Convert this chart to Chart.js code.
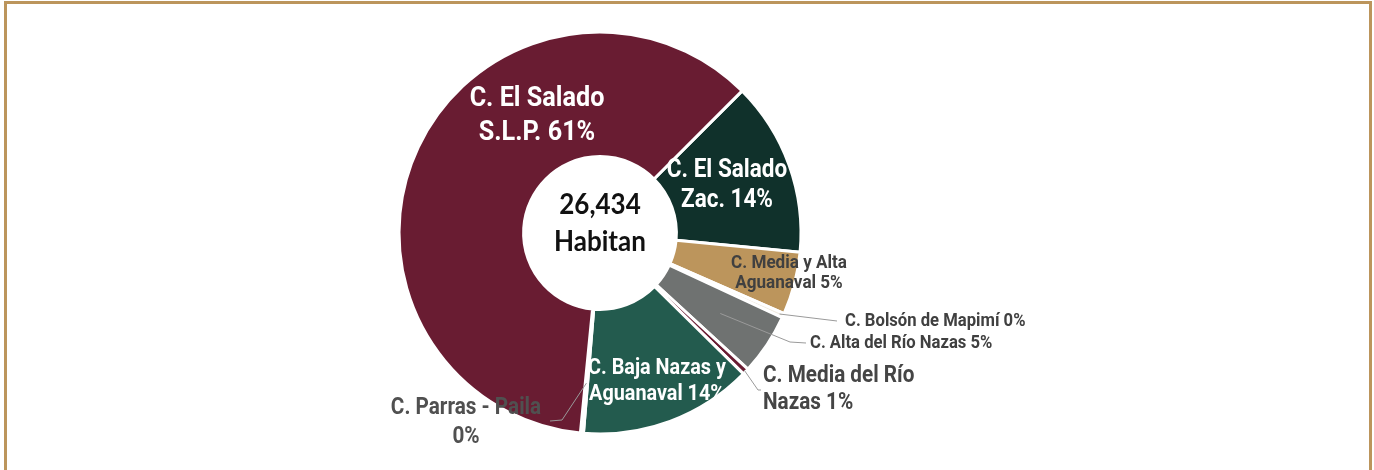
<!DOCTYPE html>
<html>
<head>
<meta charset="utf-8">
<script src="https://cdn.jsdelivr.net/npm/chart.js@4.4.1/dist/chart.umd.min.js"></script>
<style>
  body { margin: 0; background: #fff; }
  #wrap { position: relative; width: 1374px; height: 470px; overflow: hidden; }
  #frame {
    position: absolute; left: 4px; top: 1px; width: 1362px; height: 520px;
    border: 3px solid #bc955c; border-bottom: none;
  }
  #myChart { position: absolute; left: 0; top: 0; }
</style>
</head>
<body>
<div id="wrap">
  <div id="frame"></div>
  <canvas id="myChart" width="1374" height="470"></canvas>
</div>
<script>
'use strict'

// datos: habitantes por cuenca (orden de dibujo, en sentido horario)
let categories = [
  'C. El Salado Zac.',
  'C. Media y Alta Aguanaval',
  'C. Bolsón de Mapimí',
  'C. Alta del Río Nazas',
  'C. Media del Río Nazas',
  'C. Baja Nazas y Aguanaval',
  'C. Parras - Paila',
  'C. El Salado S.L.P.'
];
let habitantes = [3710, 1330, 95, 1300, 135, 3690, 64, 16110];
let colors = ['#10312b', '#bc955c', '#f1ebe0', '#6f7271', '#691c32', '#235b4e', '#f1ebe0', '#691c32'];

let total = habitantes.reduce((a, b) => a + b, 0);
let percents = habitantes.map(v => Math.round(v / total * 100));

const labelFont = 'Roboto, "DejaVu Sans Condensed", sans-serif';
const squeeze = 0.9;   // labels in the original are a narrow face

// where each label goes, relative to the centre of the doughnut
let labelLayout = [
  {words: 3, x: 127, y: -62, lh: 30, size: 25, color: '#fff', align: 'center'},
  {words: 4, x: 189, y: 30, lh: 20, size: 19, color: '#404040', align: 'center'},
  {words: 99, x: 245, y: 88, lh: 0, size: 18.5, color: '#404040', align: 'left', lead: [0.98, [[237, 88]]]},
  {words: 99, x: 210, y: 110, lh: 0, size: 18.5, color: '#404040', align: 'left', lead: [0.72, [[190, 109], [206, 110]]]},
  {words: 4, x: 163, y: 143, lh: 27, size: 23, color: '#454545', align: 'left', lead: [0.99, [[158, 157], [161, 157]]]},
  {words: 4, x: 57, y: 135, lh: 26, size: 22, color: '#fff', align: 'center'},
  {words: 4, x: -134, y: 175, lh: 29, size: 23, color: '#505050', align: 'center', lead: [0.75, [[-38, 187], [-50, 188]]]},
  {words: 3, x: -63, y: -134, lh: 34, size: 28, color: '#fff', align: 'center'}
];

function labelLines(i) {
  let w = (categories[i] + ' ' + percents[i] + '%').split(' ');
  let n = labelLayout[i].words;
  if (n >= w.length) return [w.join(' ')];
  return [w.slice(0, n).join(' '), w.slice(n).join(' ')];
}

function narrowText(ctx, t, x, y, sx) {
  ctx.save();
  ctx.translate(x, y);
  ctx.scale(sx, 1);
  ctx.fillText(t, 0, 0);
  ctx.restore();
}

let labelPlugin = {
  id: 'labels',
  afterDatasetsDraw(chart) {
    let ctx = chart.ctx;
    let arcs = chart.getDatasetMeta(0).data;
    let cx = arcs[0].x, cy = arcs[0].y;
    ctx.save();

    // leader lines
    ctx.strokeStyle = '#9a9a9a';
    ctx.lineWidth = 1;
    for (let i = 0; i < arcs.length; i++) {
      let lay = labelLayout[i];
      if (!lay.lead) continue;
      let a = arcs[i];
      let mid = (a.startAngle + a.endAngle) / 2;
      let r = a.outerRadius * lay.lead[0];
      ctx.beginPath();
      ctx.moveTo(cx + Math.cos(mid) * r, cy + Math.sin(mid) * r);
      lay.lead[1].forEach(p => ctx.lineTo(cx + p[0], cy + p[1]));
      ctx.stroke();
    }

    // texts
    ctx.textBaseline = 'middle';
    for (let i = 0; i < arcs.length; i++) {
      let lay = labelLayout[i];
      ctx.font = 'bold ' + lay.size + 'px ' + labelFont;
      ctx.fillStyle = lay.color;
      ctx.textAlign = lay.align;
      labelLines(i).forEach((t, k) => {
        narrowText(ctx, t, cx + lay.x, cy + lay.y + k * lay.lh, squeeze);
      });
    }

    // total in the hole
    ctx.fillStyle = '#111';
    ctx.textAlign = 'center';
    ctx.font = 'bold 28px Lato, "Open Sans", sans-serif';
    narrowText(ctx, total.toLocaleString('en-US'), cx, cy - 28, 0.93);
    narrowText(ctx, 'Habitan', cx, cy + 9, 0.93);
    ctx.restore();
  }
};

let ctx = document.getElementById('myChart').getContext('2d');
let myChart = new Chart(ctx, {
  type: 'doughnut',
  data: {
    labels: categories,
    datasets: [{
      data: habitantes,
      backgroundColor: colors,
      borderColor: '#fff',
      borderWidth: 3
    }]
  },
  options: {
    responsive: false,
    animation: false,
    rotation: 45,
    radius: 201,
    cutout: 88,
    layout: { padding: { left: 0, right: 174, top: 0, bottom: 4 } },
    plugins: {
      legend: { display: false },
      tooltip: { enabled: false }
    }
  },
  plugins: [labelPlugin]
});
</script>
</body>
</html>
